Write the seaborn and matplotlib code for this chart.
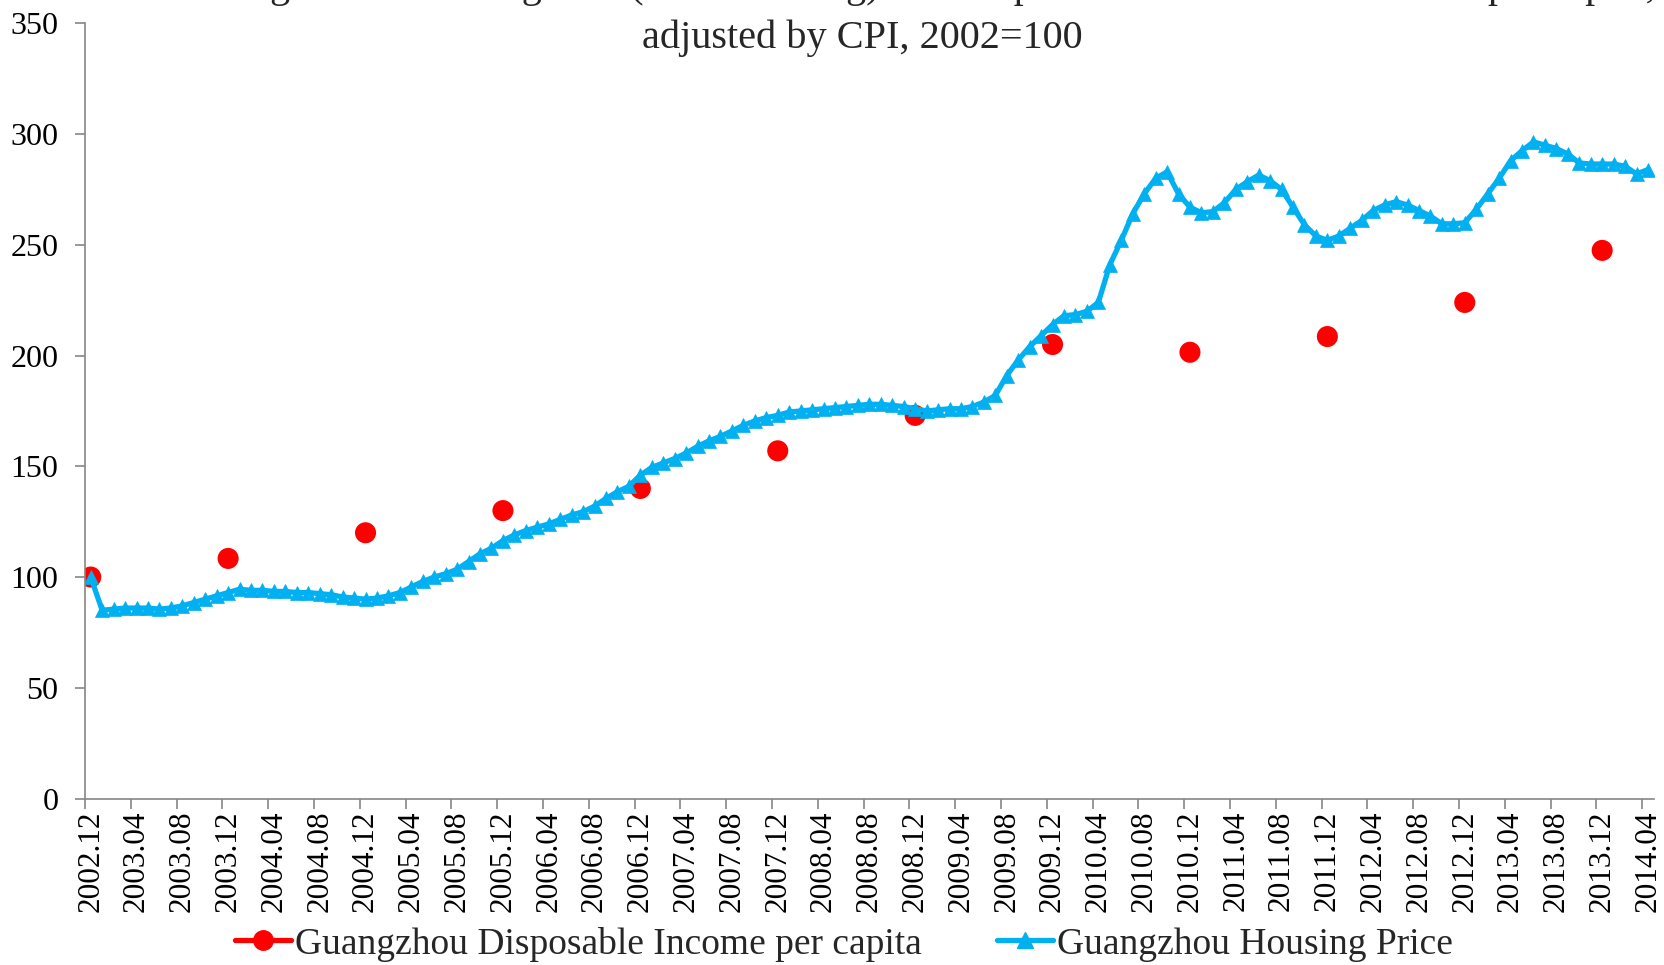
import numpy as np
import pandas as pd
import matplotlib
matplotlib.use("Agg")
import matplotlib.pyplot as plt
import seaborn as sns
from matplotlib.lines import Line2D

# ---------------- data ----------------
# monthly labels 2002.12 ... 2014.04
month_labels = ["2002.12"] + [f"{y}.{m:02d}" for y in range(2003, 2015) for m in range(1, 13)]
month_labels = month_labels[:137]

housing_price = [
    100,
    85, 85.5, 86, 86, 86, 85.5, 86, 87, 88.5, 90, 91.5, 93,                 # 2003
    94.5, 94, 94, 93.5, 93.5, 93, 93, 92.5, 92, 91, 90.5, 90,               # 2004
    90.5, 91.5, 93, 95.5, 98, 100, 101.5, 103.5, 107, 110.5, 113, 116.5,    # 2005
    119, 121, 122.5, 124, 126, 128, 129.5, 132, 135.5, 138.5, 141, 146,     # 2006
    149.5, 151.5, 153.5, 156, 159, 161.5, 163.5, 166, 168.5, 170.5, 172, 173,  # 2007
    174.5, 175, 175.5, 176, 176.5, 177, 177.5, 178, 178, 177.5, 177, 176,   # 2008
    175, 175.5, 176, 176, 177, 179, 182, 191, 198, 204, 209, 214,           # 2009
    218, 218.5, 220, 224, 241, 252, 264, 273, 280, 283, 273, 267,           # 2010
    264.5, 265, 269, 275, 278.5, 281.5, 279, 275, 267, 259, 254, 252,       # 2011
    254, 257.5, 261, 265.5, 268, 269.5, 268, 265.5, 263, 259.5, 259.5, 260, # 2012
    266, 273, 280, 288, 292.5, 296.5, 295, 293.5, 291, 287, 286.5, 286.5,   # 2013
    286.5, 285.5, 282, 284,                                                 # 2014
]

income_labels = ["2002.12", "2003.12", "2004.12", "2005.12", "2006.12", "2007.12",
                 "2008.12", "2009.12", "2010.12", "2011.12", "2012.12", "2013.12"]
income_per_capita = [100, 108.4, 120, 130, 140, 157, 173, 205, 201.5, 208.6, 224, 247.5]

tick_labels = month_labels[::4]

series_names = ["Guangzhou Disposable Income per capita", "Guangzhou Housing Price"]

# ---------------- frames ----------------
df_h = pd.DataFrame({"month": month_labels, "idx": np.arange(len(month_labels)),
                     "price": housing_price})
pos = {m: i for i, m in enumerate(month_labels)}
df_i = pd.DataFrame({"month": income_labels,
                     "idx": [pos[m] for m in income_labels],
                     "income": income_per_capita})

# ---------------- style ----------------
sns.set_theme(style="white")
plt.rcParams["font.family"] = ["Liberation Serif", "DejaVu Serif"]

RED = "#FF0000"
BLUE = "#00B0F0"
GREY = "#868686"

fig = plt.figure(figsize=(16.65, 9.65), dpi=100)
W, H = 1665, 965
ax = fig.add_axes([85 / W, 1 - 798.5 / H, 1568.7 / W, (798.5 - 23.4) / H])

sns.scatterplot(data=df_i, x="idx", y="income", color=RED, s=230, edgecolor="none",
                ax=ax, legend=False, zorder=2)
sns.lineplot(data=df_h, x="idx", y="price", color=BLUE, linewidth=3.8, marker="^",
             markersize=10, markeredgecolor=BLUE, markeredgewidth=0.5,
             ax=ax, legend=False, zorder=3)

ax.set_xlim(-0.5, len(month_labels) - 0.5)
ax.set_ylim(0, 350)
ax.set_yticks(np.arange(0, 351, 50))
ax.set_xlabel("")
ax.set_ylabel("")

ax.set_xticks(np.arange(0, len(month_labels), 4))
ax.set_xticklabels(tick_labels, rotation=90)
ax.set_xticks(np.arange(-0.5, len(month_labels), 4), minor=True)

for s in ["top", "right"]:
    ax.spines[s].set_visible(False)
for s in ["left", "bottom"]:
    ax.spines[s].set_color(GREY)
    ax.spines[s].set_linewidth(1.2)

ax.tick_params(axis="y", which="major", left=True, length=7, width=1.2, color=GREY,
               pad=12, labelsize=23, labelcolor="black")
ax.tick_params(axis="x", which="major", bottom=True, length=0, pad=9,
               labelsize=22.5, labelcolor="black")
ax.tick_params(axis="x", which="minor", bottom=True, length=7, width=1.2, color=GREY)

# ---------------- title (first line clipped by the top edge, as in the source) ----------------
fig.text(0.518, 1.0135,
         "Real Housing Price in Guangzhou (New Housing) and Disposable Income of Residents per capita,",
         ha="center", va="center", fontsize=29)
fig.text(0.518, 1 - 38 / H, "adjusted by CPI, 2002=100", ha="center", va="center", fontsize=29)

# ---------------- legend ----------------
handles = [
    Line2D([], [], color=RED, lw=3.8, marker="o", markersize=14, markeredgecolor=RED),
    Line2D([], [], color=BLUE, lw=3.8, marker="^", markersize=11, markeredgecolor=BLUE),
]
fig.legend(handles, series_names, loc="center", bbox_to_anchor=(844 / W, 1 - 944 / H),
           ncol=2, frameon=False, fontsize=27, handlelength=1.5, handletextpad=0.1,
           columnspacing=2.0)

fig.savefig("out.png", dpi=100)
